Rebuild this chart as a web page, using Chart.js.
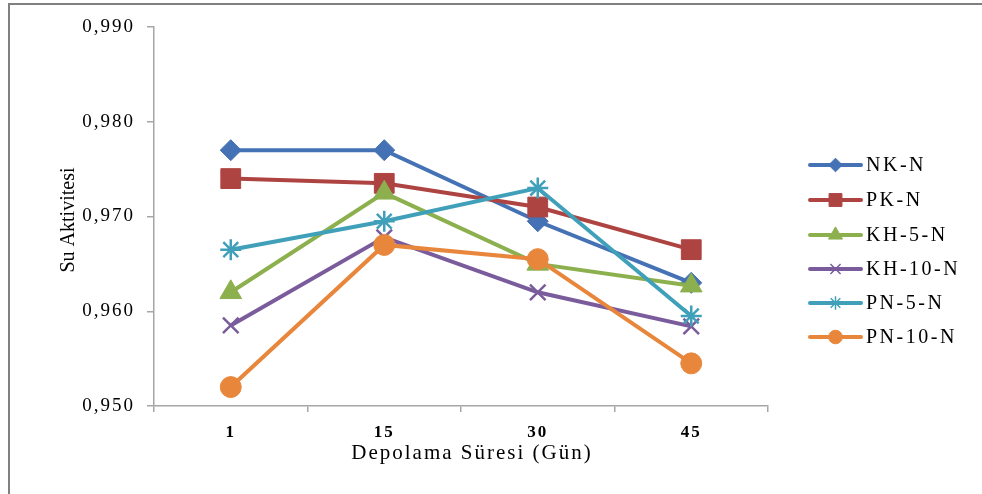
<!DOCTYPE html>
<html>
<head>
<meta charset="utf-8">
<script src="https://cdn.jsdelivr.net/npm/chart.js@4/dist/chart.umd.min.js"></script>
<style>
  html, body { margin: 0; padding: 0; background: #fff; }
  #wrap { width: 982px; height: 494px; }
</style>
</head>
<body>
<div id="wrap"><canvas id="chart" width="982" height="494"></canvas></div>
<script>
const categories = ['1', '15', '30', '45'];
const seriesNames = ['NK-N', 'PK-N', 'KH-5-N', 'KH-10-N', 'PN-5-N', 'PN-10-N'];
const nkN = [0.977, 0.977, 0.9695, 0.963];
const pkN = [0.974, 0.9735, 0.971, 0.9665];
const kh5N = [0.962, 0.9725, 0.965, 0.9627];
const kh10N = [0.9585, 0.9678, 0.962, 0.9584];
const pn5N = [0.9665, 0.9695, 0.973, 0.9595];
const pn10N = [0.952, 0.967, 0.9655, 0.9545];
const yTicks = [0.95, 0.96, 0.97, 0.98, 0.99];

const seriesValues = [nkN, pkN, kh5N, kh10N, pn5N, pn10N];
const colors = ['#4472b4', '#ae4442', '#8db04e', '#7a5c9c', '#40a0ba', '#e8873c'];
const markers = [
  { style: 'rectRot', r: 10.5 },
  { style: 'rect', r: 14 },
  { style: 'triangle', r: 12.5 },
  { style: 'crossRot', r: 11 },
  { style: 'star', r: 10.5 },
  { style: 'circle', r: 10.5 }
];

const serif = '"Liberation Serif", "Times New Roman", serif';
const axisColor = '#a6a6a6';

const datasets = seriesNames.map((name, i) => ({
  label: name,
  data: seriesValues[i],
  borderColor: colors[i],
  backgroundColor: colors[i],
  borderWidth: 4,
  pointStyle: markers[i].style,
  pointRadius: markers[i].r,
  pointHoverRadius: markers[i].r,
  pointBorderWidth: (markers[i].style === 'crossRot' || markers[i].style === 'star') ? 2.5 : 1,
  pointBackgroundColor: colors[i],
  pointBorderColor: colors[i],
  tension: 0,
  order: seriesNames.length - i
}));

const framePlugin = {
  id: 'frame',
  beforeDraw(chart) {
    chart.ctx.letterSpacing = '2px';
  },
  afterDraw(chart) {
    const ctx = chart.ctx;
    ctx.save();
    // outer frame (top and left only visible)
    ctx.strokeStyle = '#808080';
    ctx.lineWidth = 2;
    ctx.beginPath();
    ctx.moveTo(9, 494);
    ctx.lineTo(9, 4);
    ctx.lineTo(982, 4);
    ctx.stroke();

    // axis titles
    ctx.fillStyle = '#000';
    ctx.textAlign = 'center';
    ctx.textBaseline = 'middle';
    ctx.letterSpacing = '2px';
    ctx.font = '21px ' + serif;
    ctx.fillText('Depolama Süresi (Gün)', 472, 453);

    ctx.letterSpacing = '0px';
    ctx.font = '20px ' + serif;
    ctx.translate(69, 220);
    ctx.rotate(-Math.PI / 2);
    ctx.fillText('Su Aktivitesi', 0, 0);
    ctx.restore();

    // legend
    ctx.save();
    const rowY = [165, 200, 235, 269, 303, 337];
    seriesNames.forEach((name, i) => {
      const y = rowY[i];
      ctx.strokeStyle = colors[i];
      ctx.fillStyle = colors[i];
      ctx.lineWidth = 4;
      ctx.lineCap = 'round';
      ctx.beginPath();
      ctx.moveTo(810, y);
      ctx.lineTo(861, y);
      ctx.stroke();
      ctx.lineCap = 'butt';
      const isLine = markers[i].style === 'crossRot' || markers[i].style === 'star';
      ctx.lineWidth = isLine ? 1.5 : 1;
      Chart.helpers.drawPoint(ctx, {
        pointStyle: markers[i].style,
        radius: markers[i].r * 0.65,
        rotation: 0,
        borderWidth: isLine ? 1.5 : 1
      }, 835.5, y);
      ctx.fillStyle = '#000';
      ctx.textAlign = 'left';
      ctx.textBaseline = 'middle';
      ctx.letterSpacing = '2.5px';
      ctx.font = '20px ' + serif;
      ctx.fillText(name, 866, y + 1);
    });
    ctx.restore();
  }
};

new Chart(document.getElementById('chart'), {
  type: 'line',
  data: { labels: categories, datasets },
  options: {
    responsive: false,
    animation: false,
    events: [],
    layout: { padding: { left: 0, top: 27, right: 214, bottom: 0 } },
    plugins: {
      legend: { display: false },
      tooltip: { enabled: false }
    },
    scales: {
      x: {
        type: 'category',
        offset: true,
        grid: { display: true, drawOnChartArea: false, drawTicks: true, tickLength: 6, offset: true, color: axisColor, lineWidth: 1.5 },
        border: { display: true, color: axisColor, width: 1.5 },
        ticks: { color: '#000', padding: 10, font: { family: serif, size: 17, weight: 'bold' }, maxRotation: 0 },
        afterFit(scale) { scale.height = 88; }
      },
      y: {
        min: 0.95,
        max: 0.99,
        afterBuildTicks(scale) { scale.ticks = yTicks.map(v => ({ value: v })); },
        grid: { display: true, drawOnChartArea: false, drawTicks: true, tickLength: 7, color: axisColor, lineWidth: 1.5 },
        border: { display: true, color: axisColor, width: 1.5 },
        ticks: {
          color: '#000',
          padding: 12,
          font: { family: serif, size: 19 },
          callback: (v) => Number(v).toFixed(3).replace('.', ',')
        },
        afterFit(scale) { scale.width = 154; }
      }
    }
  },
  plugins: [framePlugin]
});
</script>
</body>
</html>
